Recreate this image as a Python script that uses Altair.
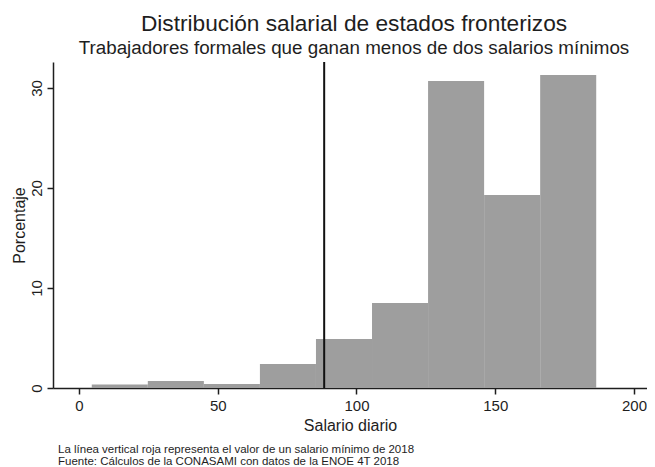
import altair as alt
import pandas as pd

# ---- data ----
bin_start = [4.6, 24.8, 45.0, 65.2, 85.4, 105.6, 125.8, 146.0, 166.2]
bin_end = [24.8, 45.0, 65.2, 85.4, 105.6, 125.8, 146.0, 166.2, 186.4]
percent = [0.35, 0.7, 0.4, 2.4, 4.9, 8.5, 30.7, 19.3, 31.3]
min_wage = [88.36]
x_ticks = [0, 50, 100, 150, 200]
y_ticks = [0, 10, 20, 30]

title = "Distribución salarial de estados fronterizos"
subtitle = "Trabajadores formales que ganan menos de dos salarios mínimos"
x_title = "Salario diario"
y_title = "Porcentaje"
note = [
    "La línea vertical roja representa el valor de un salario mínimo de 2018",
    "Fuente: Cálculos de la CONASAMI con datos de la ENOE 4T 2018",
]

FONT = "Liberation Sans, Arial, Helvetica, sans-serif"
INK = "#1e1e1e"
W, H = 594, 326

bars_df = pd.DataFrame({"start": bin_start, "end": bin_end, "pct": percent})
line_df = pd.DataFrame({"wage": min_wage})
note_df = pd.DataFrame({"t": ["\n".join(note)]})

x_scale = alt.Scale(domain=[-9.37, 204.7], nice=False, zero=False)
y_scale = alt.Scale(domain=[0, 32.6], nice=False)

bars = alt.Chart(bars_df).mark_rect(color="#9e9e9e").encode(
    x=alt.X(
        "start:Q",
        scale=x_scale,
        axis=alt.Axis(
            values=x_ticks,
            title=x_title,
            labelPadding=4,
            titlePadding=4,
        ),
    ),
    x2="end:Q",
    y=alt.Y(
        "pct:Q",
        scale=y_scale,
        axis=alt.Axis(
            values=y_ticks,
            title=y_title,
            labelAngle=-90,
            labelAlign="center",
            labelBaseline="bottom",
            labelPadding=3,
            titlePadding=2,
        ),
    ),
    y2=alt.datum(0),
)

rule = alt.Chart(line_df).mark_rule(color="#111111", strokeWidth=2).encode(
    x=alt.X("wage:Q", scale=x_scale)
)

foot = alt.Chart(note_df).mark_text(
    align="left",
    baseline="top",
    lineBreak="\n",
    lineHeight=12,
    fontSize=11.5,
    font="Liberation Sans Narrow, Arial Narrow, Liberation Sans, sans-serif",
    color=INK,
).encode(x=alt.value(5), y=alt.value(382), text="t:N")

chart = (
    alt.layer(bars, rule, foot)
    .properties(
        width=W,
        height=H,
        title=alt.TitleParams(
            text=title,
            subtitle=subtitle,
            anchor="middle",
            font=FONT,
            fontSize=22.7,
            fontWeight="normal",
            color=INK,
            subtitleFont=FONT,
            subtitleFontSize=18.8,
            subtitleColor=INK,
            subtitlePadding=4,
            offset=3,
            dx=4,
        ),
        padding={"left": 45, "top": 54, "right": 0, "bottom": 79},
        autosize=alt.AutoSizeParams(type="none"),
    )
    .configure_view(stroke=None)
    .configure_axis(
        grid=False,
        domainColor=INK,
        domainWidth=1.5,
        tickColor=INK,
        tickWidth=1.5,
        tickSize=6,
        labelFont=FONT,
        labelFontSize=15,
        labelColor=INK,
        titleFont=FONT,
        titleFontSize=16,
        titleFontWeight="normal",
        titleColor=INK,
    )
)

chart.save("out.html", embed_options={"renderer": "svg", "actions": False})
